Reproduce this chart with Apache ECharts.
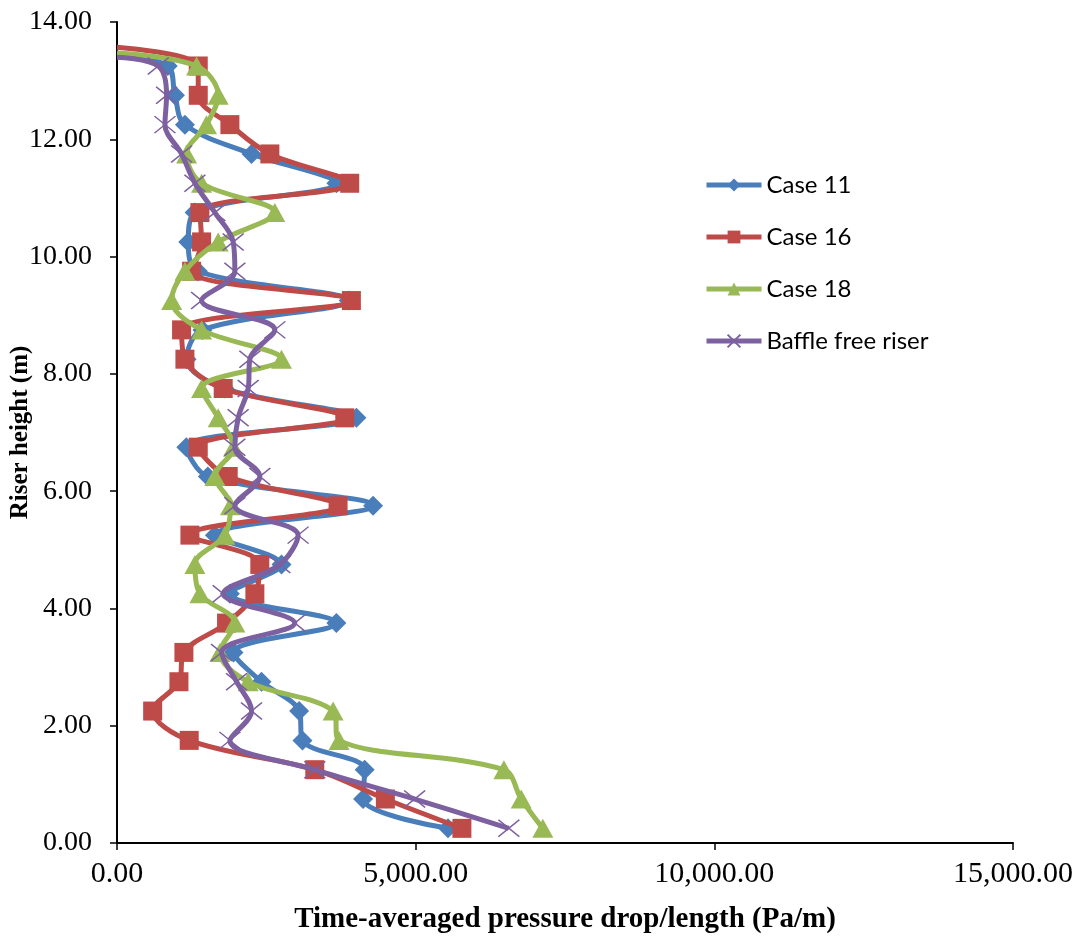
<!DOCTYPE html>
<html>
<head>
<meta charset="utf-8">
<script src="https://cdn.jsdelivr.net/npm/echarts@6/dist/echarts.min.js"></script>
<style>
html,body{margin:0;padding:0;background:#fff;}
#chart{width:1081px;height:945px;}
</style>
</head>
<body>
<div id="chart"></div>
<script>
// Riser heights (m) of the sampled points
const heights = [0.25,0.75,1.25,1.75,2.25,2.75,3.25,3.75,4.25,4.75,5.25,5.75,6.25,6.75,7.25,7.75,8.25,8.75,9.25,9.75,10.25,10.75,11.25,11.75,12.25,12.75,13.25];
// Time-averaged pressure drop/length (Pa/m)
const case11 = [5541,4119,4147,3105,3049,2419,1950,3673,1890,2754,1639,4287,1520,1160,4008,1800,1165,1430,3880,1355,1193,1300,3673,2252,1137,970,850];
const case16 = [5774,4493,3311,1209,597,1037,1120,1834,2308,2391,1221,3701,1862,1360,3813,1778,1137,1081,3924,1249,1416,1388,3896,2559,1890,1360,1360];
const case18 = [7129,6767,6477,3718,3618,2196,1722,1973,1388,1304,1806,1900,1639,1950,1694,1416,2754,1416,915,1137,1694,2642,1416,1165,1499,1694,1332];
const baffleFree = [6560,4983,3311,1890,2252,2001,1750,2977,1778,2726,3032,1973,2391,1973,2028,2196,2224,2642,1416,1973,1945,1639,1304,1081,803,830,691];
// end points of the curves at the riser top (x, height)
const topPoints = {
  case11: [0, 13.42],
  case16: [0, 13.57],
  case18: [0, 13.47],
  baffleFree: [0, 13.40]
};
const seriesNames = ['Case 11','Case 16','Case 18','Baffle free riser'];
const xTicks = [0, 5000, 10000, 15000];
const yTicks = [0, 2, 4, 6, 8, 10, 12, 14];

function build(xs, top) {
  const d = xs.map((x, i) => [x, heights[i]]);
  d.push({ value: top, symbol: 'none' });
  return d;
}
function fmt(v) {
  return Number(v).toLocaleString('en-US', {minimumFractionDigits: 2, maximumFractionDigits: 2});
}
const colors = ['#4A7EBB', '#BE4B48', '#98B954', '#7D60A0'];
const symbols = ['diamond', 'rect', 'triangle', 'path://M0,0L1,1M1,0L0,1'];
const sizes = [[20, 20], 19, [21, 19], [21, 17]];
const datasets = [
  build(case11, topPoints.case11),
  build(case16, topPoints.case16),
  build(case18, topPoints.case18),
  build(baffleFree, topPoints.baffleFree)
];

const chart = echarts.init(document.getElementById('chart'), null, {renderer: 'canvas'});
chart.setOption({
  animation: false,
  backgroundColor: '#ffffff',
  color: colors,
  grid: { left: 117, right: 68, top: 22, bottom: 102, containLabel: false, outerBoundsMode: 'none' },
  legend: {
    orient: 'vertical',
    left: 704,
    top: 172,
    padding: 0,
    itemWidth: 55,
    itemHeight: 16,
    itemGap: 26,
    data: seriesNames,
    lineStyle: { width: 5 },
    textStyle: { fontFamily: 'Lato', fontSize: 24, color: '#000', lineHeight: 26, padding: [0,0,0,0] }
  },
  xAxis: {
    type: 'value',
    min: xTicks[0],
    max: xTicks[xTicks.length - 1],
    interval: 5000,
    name: 'Time-averaged pressure drop/length (Pa/m)',
    nameLocation: 'middle',
    nameGap: 62,
    nameMoveOverlap: false,
    nameTextStyle: { fontFamily: 'Liberation Serif', fontWeight: 'bold', fontSize: 29, color: '#000' },
    axisLine: { show: true, onZero: false, lineStyle: { color: '#000', width: 2 } },
    axisTick: { show: true, inside: false, length: 7, lineStyle: { color: '#000', width: 1.5 } },
    axisLabel: { fontFamily: 'Liberation Serif', fontSize: 30, color: '#000', margin: 16, formatter: fmt },
    splitLine: { show: false }
  },
  yAxis: {
    type: 'value',
    min: yTicks[0],
    max: yTicks[yTicks.length - 1],
    interval: 2,
    name: 'Riser height (m)',
    nameLocation: 'middle',
    nameGap: 84,
    nameRotate: 90,
    nameMoveOverlap: false,
    nameTextStyle: { fontFamily: 'Liberation Serif', fontWeight: 'bold', fontSize: 25, color: '#000' },
    axisLine: { show: true, onZero: false, lineStyle: { color: '#000', width: 2 } },
    axisTick: { show: true, inside: false, length: 7, lineStyle: { color: '#000', width: 1.5 } },
    axisLabel: { fontFamily: 'Liberation Serif', fontSize: 28, color: '#000', margin: 25, formatter: fmt },
    splitLine: { show: false }
  },
  series: seriesNames.map((name, i) => ({
    name: name,
    type: 'line',
    smooth: 0.35,
    data: datasets[i],
    symbol: symbols[i],
    symbolSize: sizes[i],
    showAllSymbol: true,
    clip: true,
    lineStyle: { color: colors[i], width: 5 },
    itemStyle: i === 3
      ? { color: colors[i], borderColor: colors[i], borderWidth: 1.5 }
      : { color: colors[i], borderWidth: 0 },
    z: 2 + i
  }))
});
</script>
</body>
</html>
